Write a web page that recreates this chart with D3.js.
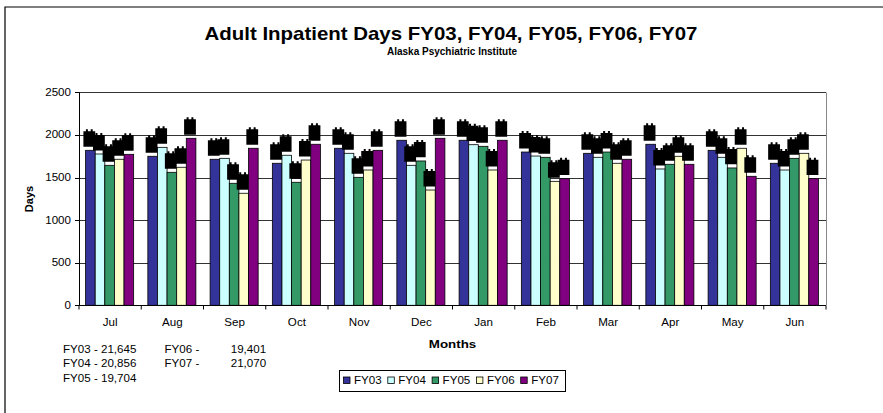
<!DOCTYPE html>
<html><head><meta charset="utf-8">
<script src="https://cdn.jsdelivr.net/npm/d3@7"></script>
<style>body{margin:0;background:#fff}svg{display:block;font-family:Arial,"Liberation Sans",sans-serif}</style>
</head><body><svg id="c" width="883" height="413"></svg>
<script>
const months = ["Jul","Aug","Sep","Oct","Nov","Dec","Jan","Feb","Mar","Apr","May","Jun"];
const seriesNames = ["FY03","FY04","FY05","FY06","FY07"];
const fy03 = [1819,1749,1714,1667,1843,1937,1937,1799,1784,1890,1819,1667];
const fy04 = [1776,1854,1725,1761,1784,1643,1885,1752,1737,1600,1737,1588];
const fy05 = [1643,1561,1432,1444,1502,1694,1866,1737,1799,1655,1612,1725];
const fy06 = [1714,1620,1315,1705,1588,1353,1588,1455,1667,1749,1843,1784];
const fy07 = [1772,1960,1843,1890,1819,1960,1937,1486,1714,1655,1514,1486];
const colors = ["#333399","#CCFFFF","#339966","#FFFFCC","#800080"];
const yTicks = [0,500,1000,1500,2000,2500];
const totalsLeft = ["FY03 - 21,645","FY04 - 20,856","FY05 - 19,704"];
const totalsRightLabel = ["FY06 -","FY07 -"];
const totalsRightValue = ["19,401","21,070"];

const series = [fy03,fy04,fy05,fy06,fy07];
const SX = 1.16; // horizontal stretch of the original picture's text
const svg = d3.select("#c");
const L=79,R=826,T=92.3,B=305.3;

function place(sel, fx, fy){ return sel.attr("transform",(d,i)=>`translate(${typeof fx==="function"?fx(d,i):fx},${typeof fy==="function"?fy(d,i):fy}) scale(${SX},1)`); }

// outer frame
svg.append("path").attr("d","M5,413V7H883").attr("fill","none").attr("stroke","#000").attr("stroke-width",1.2);

const x0 = d3.scaleBand().domain(months).range([L,R]).paddingInner(0).paddingOuter(0);
const x1 = d3.scaleBand().domain(seriesNames).range([6.6, x0.bandwidth()-7.6]).padding(0);
const y = d3.scaleLinear().domain([0,2500]).range([B,T]);

// grid
svg.append("g").selectAll("line").data(yTicks.filter(d=>d>0)).join("line")
  .attr("x1",L).attr("x2",R).attr("y1",d=>Math.round(y(d))+0.5).attr("y2",d=>Math.round(y(d))+0.5)
  .attr("stroke","#333").attr("stroke-width",1);
svg.append("line").attr("x1",R+0.5).attr("x2",R+0.5).attr("y1",Math.round(T)+0.5).attr("y2",B).attr("stroke","#888");

// bars
const groups = svg.append("g").selectAll("g").data(months).join("g")
  .attr("transform",m=>`translate(${x0(m)},0)`);
groups.selectAll("rect.bar").data((m,i)=>seriesNames.map((s,j)=>({s,j,v:series[j][i]}))).join("rect")
  .attr("class","bar")
  .attr("x",d=>x1(d.s)).attr("width",x1.bandwidth())
  .attr("y",d=>y(d.v)).attr("height",d=>B-y(d.v))
  .attr("fill",d=>colors[d.j]).attr("stroke","#000").attr("stroke-width",0.8);
// data label blobs (labels rendered as black blocks in the original)
groups.selectAll("path.lbl").data((m,i)=>seriesNames.map((s,j)=>({s,j,v:series[j][i]}))).join("path")
  .attr("class","lbl")
  .attr("d",d=>{const cx=x1(d.s)+x1.bandwidth()/2-1.1, t=y(d.v)-21, b=y(d.v)-3.6, w=5.9;
    return `M${cx-w},${b}V${t+2}H${cx-w+2.5}V${t}H${cx-w+4.5}V${t+2}H${cx+w-4.5}V${t}H${cx+w-2.5}V${t+2}H${cx+w}V${b}Z`;})
  .attr("fill","#000");

// y axis
svg.append("line").attr("x1",L+0.5).attr("x2",L+0.5).attr("y1",T).attr("y2",B+0.5).attr("stroke","#000");
svg.append("g").selectAll("line").data(yTicks).join("line")
  .attr("x1",L-4).attr("x2",L).attr("y1",d=>Math.round(y(d))+0.5).attr("y2",d=>Math.round(y(d))+0.5).attr("stroke","#000");
place(svg.append("g").selectAll("text").data(yTicks).join("text"), L-8, d=>y(d)+3.5)
  .attr("text-anchor","end").attr("font-size",10).text(d=>d);
// x axis
const xa = svg.append("g").attr("transform",`translate(0,${Math.round(B)+0.5})`);
xa.append("line").attr("x1",L).attr("x2",R).attr("stroke","#000");
xa.selectAll("line.t").data(d3.range(13)).join("line").attr("class","t")
  .attr("x1",i=>L+i*x0.step()).attr("x2",i=>L+i*x0.step()).attr("y1",0).attr("y2",4).attr("stroke","#000");
place(xa.selectAll("text").data(months).join("text"), m=>x0(m)+x0.bandwidth()/2, 20)
  .attr("text-anchor","middle").attr("font-size",10).text(d=>d);

// titles
svg.append("text").attr("x",451).attr("y",39.5).attr("text-anchor","middle").attr("font-size",18.5).attr("font-weight","bold")
  .attr("textLength",493).attr("lengthAdjust","spacingAndGlyphs")
  .text("Adult Inpatient Days FY03, FY04, FY05, FY06, FY07");
svg.append("text").attr("x",452).attr("y",55).attr("text-anchor","middle").attr("font-size",10).attr("font-weight","bold")
  .text("Alaska Psychiatric Institute");
svg.append("text").attr("transform","translate(33,199) rotate(-90)").attr("text-anchor","middle").attr("font-size",11).attr("font-weight","bold").text("Days");
place(svg.append("text"), 452.5, 347.5).attr("text-anchor","middle").attr("font-size",11.5).attr("font-weight","bold").text("Months");

// totals text
place(svg.append("g").selectAll("text").data(totalsLeft).join("text"), 63, (d,i)=>352.5+i*14.5).attr("font-size",10).text(d=>d);
place(svg.append("g").selectAll("text").data(totalsRightLabel).join("text"), 164.5, (d,i)=>352.5+i*14.5).attr("font-size",10).text(d=>d);
place(svg.append("g").selectAll("text").data(totalsRightValue).join("text"), 230.7, (d,i)=>352.5+i*14.5).attr("font-size",10).text(d=>d);

// legend
const lg = svg.append("g");
lg.append("rect").attr("x",339.5).attr("y",370.5).attr("width",226).attr("height",21).attr("fill","#fff").attr("stroke","#000");
const li = lg.selectAll("g").data(seriesNames).join("g").attr("transform",(d,i)=>`translate(${343.5+i*44.3},376.5)`);
li.append("rect").attr("width",6.5).attr("height",6.5).attr("y",0.5).attr("fill",(d,i)=>colors[i]).attr("stroke","#000").attr("stroke-width",0.8);
place(li.append("text"), 10.5, 7.5).attr("font-size",10).text(d=>d);
</script></body></html>
